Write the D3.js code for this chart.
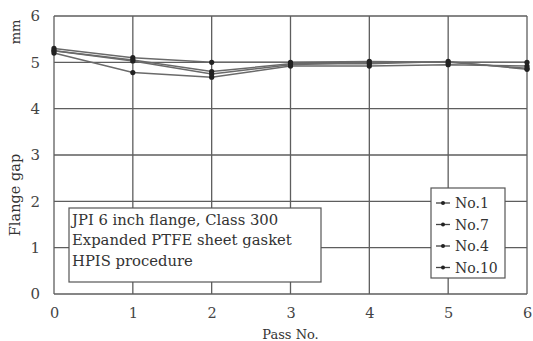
<!DOCTYPE html>
<html>
<head>
<meta charset="utf-8">
<script src="https://cdn.jsdelivr.net/npm/d3@7"></script>
<style>
  body { margin: 0; background: #fff; }
  text { font-family: "DejaVu Serif", "Liberation Serif", serif; fill: #333; }
</style>
</head>
<body>
<div id="chart"></div>
<script>
// data
var passNo = [0, 1, 2, 3, 4, 5, 6]
var seriesNames = ["No.1", "No.7", "No.4", "No.10"]
var no1 = [5.30, 5.10, 5.00, 5.00, 5.02, 5.00, 5.00]
var no7 = [5.25, 5.05, 4.80, 4.97, 4.97, 5.02, 4.85]
var no4 = [5.20, 4.78, 4.68, 4.92, 4.92, 4.95, 4.92]
var no10 = [5.25, 5.03, 4.75, 4.95, 5.00, 5.00, 4.87]
var yTicks = [0, 1, 2, 3, 4, 5, 6]
var noteLines = ["JPI 6 inch flange, Class 300", "Expanded PTFE sheet gasket", "HPIS procedure"]

var width = 533, height = 341
var margin = {top: 16, right: 6, bottom: 47, left: 54}

const svg = d3.select('#chart').append('svg')
  .attr("width", width)
  .attr("height", height)

const x = d3.scaleLinear().domain([0, 6]).range([margin.left, width - margin.right])
const y = d3.scaleLinear().domain([0, 6]).range([height - margin.bottom, margin.top])

// grid
const grid = svg.append("g")
grid.selectAll("line.v").data(passNo).enter().append("line")
  .attr("x1", d => x(d)).attr("x2", d => x(d))
  .attr("y1", y(0)).attr("y2", y(6))
  .attr("stroke", "#5e5e5e").attr("stroke-width", 1.3)
grid.selectAll("line.h").data(yTicks).enter().append("line")
  .attr("x1", x(0)).attr("x2", x(6))
  .attr("y1", d => y(d)).attr("y2", d => y(d))
  .attr("stroke", "#5e5e5e").attr("stroke-width", 1.3)

// axes labels
const xAxis = svg.append("g")
  .attr("transform", "translate(0," + (y(0) + 11) + ")")
  .call(d3.axisBottom(x).tickValues(passNo).tickSize(0).tickFormat(d3.format("d")))
xAxis.select(".domain").remove()
xAxis.selectAll("text").attr("font-size", 14.5).style("fill", "#444")

const yAxis = svg.append("g")
  .attr("transform", "translate(" + (x(0) - 11) + ",0)")
  .call(d3.axisLeft(y).tickValues(yTicks).tickSize(0).tickFormat(d3.format("d")))
yAxis.select(".domain").remove()
yAxis.selectAll("text").attr("font-size", 15).style("fill", "#444")

svg.append("text")
  .attr("x", x(3)).attr("y", 339)
  .attr("text-anchor", "middle")
  .attr("font-size", 13)
  .text("Pass No.")

svg.append("text")
  .attr("transform", "translate(20,195) rotate(-90)")
  .attr("text-anchor", "middle")
  .attr("font-size", 14.5)
  .text("Flange gap")

svg.append("text")
  .attr("transform", "translate(20,32) rotate(-90)")
  .attr("text-anchor", "middle")
  .attr("font-size", 13)
  .text("mm")

// lines
var allSeries = [no1, no7, no4, no10]
const line = d3.line().x((d, i) => x(passNo[i])).y(d => y(d))
const lines = svg.append("g")
allSeries.forEach(function (s) {
  lines.append("path")
    .datum(s)
    .attr("d", line)
    .attr("fill", "none")
    .attr("stroke", "#6a6a6a")
    .attr("stroke-width", 1.5)
  lines.selectAll(null).data(s).enter().append("circle")
    .attr("cx", (d, i) => x(passNo[i]))
    .attr("cy", d => y(d))
    .attr("r", 2.6)
    .attr("fill", "#222")
})

// note box
const note = svg.append("g")
note.append("rect")
  .attr("x", 69).attr("y", 208).attr("width", 252).attr("height", 74)
  .attr("fill", "#fff").attr("stroke", "#555").attr("stroke-width", 1.2)
note.selectAll("text").data(noteLines).enter().append("text")
  .attr("x", 72).attr("y", (d, i) => 224.5 + i * 20.5)
  .attr("font-size", 14.8)
  .text(d => d)

// legend
const legend = svg.append("g")
legend.append("rect")
  .attr("x", 431).attr("y", 188).attr("width", 74).attr("height", 90)
  .attr("fill", "#fff").attr("stroke", "#555").attr("stroke-width", 1.2)
const items = legend.selectAll("g").data(seriesNames).enter().append("g")
  .attr("transform", (d, i) => "translate(0," + (203 + i * 21.5) + ")")
items.append("line")
  .attr("x1", 436).attr("x2", 450).attr("y1", 0).attr("y2", 0)
  .attr("stroke", "#444").attr("stroke-width", 1.3)
items.append("circle")
  .attr("cx", 443).attr("cy", 0).attr("r", 2)
  .attr("fill", "#222")
items.append("text")
  .attr("x", 455).attr("y", 5)
  .attr("font-size", 14)
  .text(d => d)
</script>
</body>
</html>
